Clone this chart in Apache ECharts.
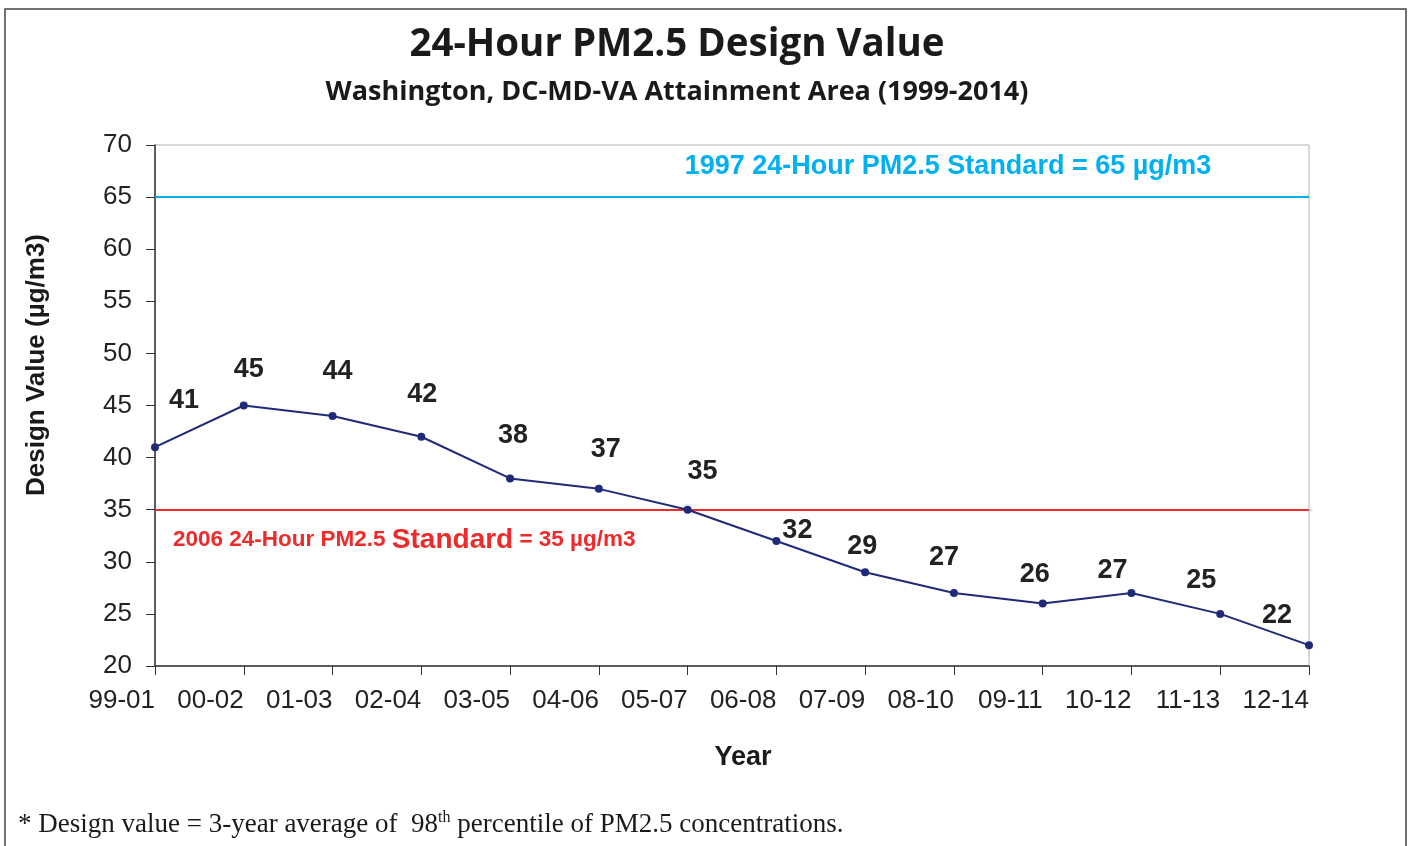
<!DOCTYPE html>
<html>
<head>
<meta charset="utf-8">
<script src="https://cdn.jsdelivr.net/npm/echarts@6.0.0/dist/echarts.min.js"></script>
<style>
  * { margin: 0; padding: 0; }
  html, body { width: 1411px; height: 846px; background: #fff; overflow: hidden; }
  #chart { width: 1411px; height: 846px; }
</style>
</head>
<body>
<div id="chart"></div>
<script>
// data
const periods = ['99-01', '00-02', '01-03', '02-04', '03-05', '04-06', '05-07',
                 '06-08', '07-09', '08-10', '09-11', '10-12', '11-13', '12-14'];
const designValues = [41, 45, 44, 42, 38, 37, 35, 32, 29, 27, 26, 27, 25, 22];
const standard1997 = 65;
const standard2006 = 35;
const yTicks = [20, 25, 30, 35, 40, 45, 50, 55, 60, 65, 70];

// label nudges (px) so numbers sit like in the original
const labelNudge = [[29, -47], [5, -36], [5, -44], [1, -42], [3, -43], [7, -39], [15, -38],
                    [21, -10], [-3, -26], [-10, -36], [-8, -29], [-19, -23], [-19, -33], [-32, -30]];

const chart = echarts.init(document.getElementById('chart'));

const seriesData = designValues.map((v, i) => ({
  value: v,
  label: { offset: labelNudge[i] }
}));

chart.setOption({
  animation: false,
  title: [{
    text: '24-Hour PM2.5 Design Value',
    left: 672, top: 21, textAlign: 'center',
    textStyle: { fontFamily: 'Open Sans', fontWeight: 'bold', fontSize: 38.5, color: '#1a1a1a' }
  }, {
    text: 'Washington, DC-MD-VA Attainment Area (1999-2014)',
    left: 672, top: 74, textAlign: 'center',
    textStyle: { fontFamily: 'Open Sans', fontWeight: 'bold', fontSize: 27, color: '#1a1a1a' }
  }],
  grid: {
    left: 155, right: 102, top: 145, bottom: 180,
    show: true, borderColor: '#b0b0b0', borderWidth: 1
  },
  xAxis: {
    type: 'category',
    data: periods,
    boundaryGap: false,
    axisLine: { lineStyle: { color: '#333', width: 1.5 } },
    axisTick: { show: true, length: 9, alignWithLabel: true, lineStyle: { color: '#333' } },
    axisLabel: {
      fontFamily: 'Liberation Sans', fontSize: 26, color: '#222', margin: 22,
      interval: 0, align: 'right'
    },
    splitLine: { show: false }
  },
  yAxis: {
    type: 'value',
    min: yTicks[0], max: yTicks[yTicks.length - 1], interval: 5,
    axisLine: { show: true, lineStyle: { color: '#333', width: 1.5 } },
    axisTick: { show: true, length: 9, lineStyle: { color: '#333' } },
    axisLabel: { fontFamily: 'Liberation Sans', fontSize: 26, color: '#222', margin: 23 },
    splitLine: { show: false }
  },
  series: [{
    type: 'line',
    data: seriesData,
    symbol: 'circle',
    symbolSize: 8,
    lineStyle: { color: '#1f2a78', width: 2 },
    itemStyle: { color: '#1f2a78' },
    label: {
      show: true, position: 'inside',
      fontFamily: 'Liberation Sans', fontWeight: 'bold', fontSize: 27, color: '#222'
    },
    markLine: {
      silent: true,
      symbol: 'none',
      label: { show: false },
      data: [
        { yAxis: standard1997, lineStyle: { color: '#00b0f0', width: 2, type: 'solid' } },
        { yAxis: standard2006, lineStyle: { color: '#ee2a2a', width: 2, type: 'solid' } }
      ],
      z: 1
    },
    z: 3
  }],
  graphic: [{
    type: 'rect',
    shape: { x: 5, y: 9, width: 1401, height: 860 },
    style: { fill: 'none', stroke: '#444', lineWidth: 1.5 },
    silent: true
  }, {
    type: 'text',
    x: 37, y: 365, rotation: Math.PI / 2,
    style: {
      text: 'Design Value (µg/m3)',
      fontFamily: 'Liberation Sans', fontWeight: 'bold', fontSize: 26,
      fill: '#1a1a1a', align: 'center', verticalAlign: 'middle'
    }
  }, {
    type: 'text',
    x: 743, y: 758,
    style: {
      text: 'Year',
      fontFamily: 'Liberation Sans', fontWeight: 'bold', fontSize: 27,
      fill: '#1a1a1a', align: 'center', verticalAlign: 'middle'
    }
  }, {
    type: 'text',
    x: 948, y: 167,
    style: {
      text: '1997 24-Hour PM2.5 Standard = 65 µg/m3',
      fontFamily: 'Liberation Sans', fontWeight: 'bold', fontSize: 27,
      fill: '#00b0f0', align: 'center', verticalAlign: 'middle'
    }
  }, {
    type: 'text',
    x: 173, y: 540,
    style: {
      text: '{s|2006 24-Hour PM2.5 }{b|Standard}{s| = 35 µg/m3}',
      align: 'left', verticalAlign: 'middle',
      rich: {
        s: { fontFamily: 'Liberation Sans', fontWeight: 'bold', fontSize: 22.5, fill: '#ee2a2a' },
        b: { fontFamily: 'Liberation Sans', fontWeight: 'bold', fontSize: 28, fill: '#ee2a2a' }
      }
    }
  }, {
    type: 'text',
    x: 18, y: 825,
    style: {
      text: '{t|* Design value = 3-year average of  98}{sup|th}{t| percentile of PM2.5 concentrations.}',
      align: 'left', verticalAlign: 'middle',
      rich: {
        t: { fontFamily: 'Liberation Serif', fontSize: 27, fill: '#1a1a1a' },
        sup: { fontFamily: 'Liberation Serif', fontSize: 16, fill: '#1a1a1a', padding: [0, 0, 14, 0] }
      }
    }
  }]
});
</script>
</body>
</html>
